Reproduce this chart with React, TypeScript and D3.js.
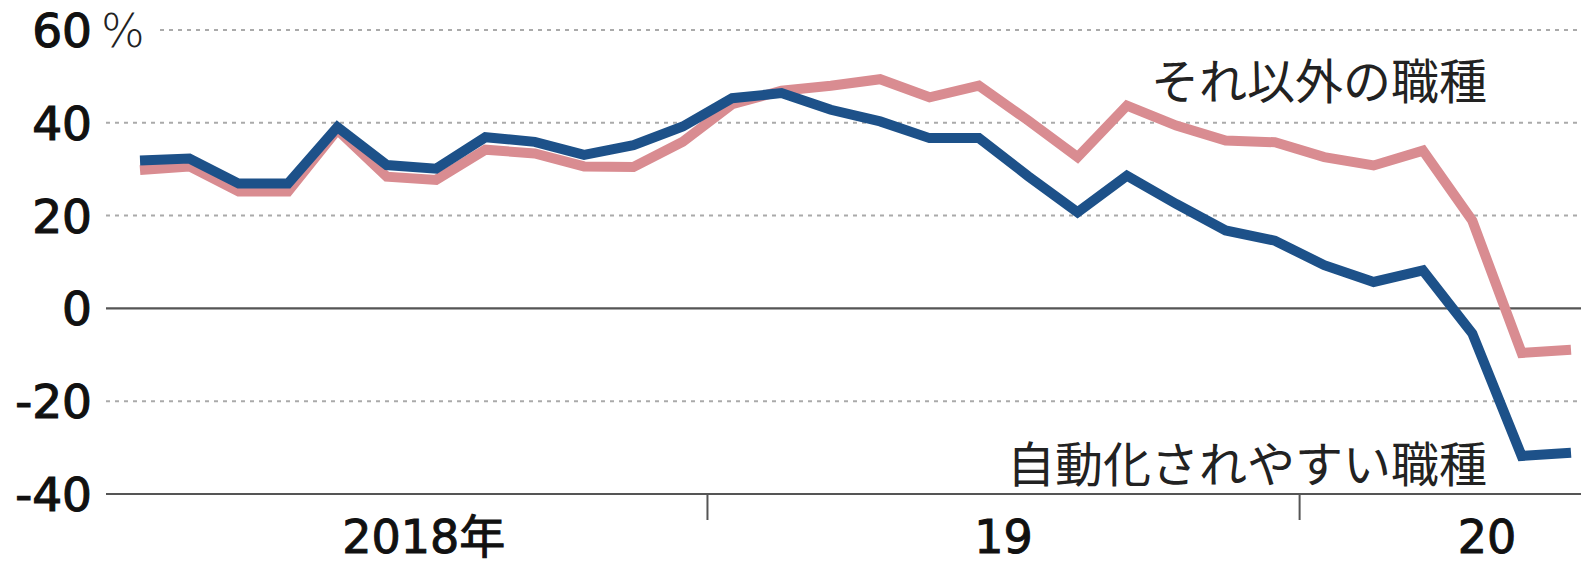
import React from "react";
import * as d3 from "d3";

const months: string[] = [
  "2018-01","2018-02","2018-03","2018-04","2018-05","2018-06","2018-07","2018-08","2018-09","2018-10","2018-11","2018-12",
  "2019-01","2019-02","2019-03","2019-04","2019-05","2019-06","2019-07","2019-08","2019-09","2019-10","2019-11","2019-12",
  "2020-01","2020-02","2020-03","2020-04","2020-05","2020-06",
];

// 自動化されやすい職種
const automatable: number[] = [
  31.9, 32.3, 26.9, 26.9, 39.1, 30.9, 30.1, 36.9, 35.9, 33.1, 35.2, 39.2,
  45.3, 46.4, 42.8, 40.3, 36.7, 36.7, 28.5, 20.7, 28.6, 22.5, 16.8, 14.6,
  9.3, 5.7, 8.2, -5.4, -31.8, -31.1,
];

// それ以外の職種
const others: number[] = [
  29.8, 30.6, 25.2, 25.2, 38.5, 28.4, 27.7, 34.2, 33.4, 30.6, 30.5, 35.9,
  44.0, 46.9, 48.0, 49.4, 45.5, 48.0, 40.5, 32.6, 43.7, 39.4, 36.2, 35.8,
  32.6, 30.8, 34.0, 18.9, -9.6, -8.9,
];

const yTicks: number[] = [60, 40, 20, 0, -20, -40];
const yearBoundaries: number[] = [11.5, 23.5];
const yearLabels: { text: string; at: number }[] = [
  { text: "2018年", at: 5.75 },
  { text: "19", at: 17.5 },
  { text: "20", at: 27.3 },
];

const W = 1581;
const H = 564;
const BLUE = "#1d5189";
const PINK = "#d98c91";
const NUM_FONT = "'DejaVu Sans', 'Noto Sans CJK JP', sans-serif";
const JP_FONT = "'Noto Sans CJK JP', sans-serif";

export default function App() {
  const x = d3.scaleLinear().domain([0, months.length - 1]).range([140, 1571]);
  const y = d3.scaleLinear().domain([-40, 60]).range([494, 30]);
  const line = d3
    .line<number>()
    .x((_, i) => x(i))
    .y((d) => y(d));

  const plotLeft = 106;

  return (
    <svg
      width={W}
      height={H}
      style={{ position: "absolute", left: 0, top: 0, background: "#fff" }}
    >
      {/* grid lines */}
      {yTicks.map((t) => {
        const solid = t === 0 || t === -40;
        const x0 = t === 60 ? 160 : plotLeft;
        return (
          <line
            key={t}
            x1={x0}
            x2={W}
            y1={y(t)}
            y2={y(t)}
            stroke={solid ? "#555" : "#aaa"}
            strokeWidth={solid ? 2.2 : 2}
            strokeDasharray={solid ? undefined : "4 5"}
          />
        );
      })}
      {/* year boundary ticks */}
      {yearBoundaries.map((b) => (
        <line
          key={b}
          x1={x(b)}
          x2={x(b)}
          y1={y(-40)}
          y2={y(-40) + 26}
          stroke="#555"
          strokeWidth={2}
        />
      ))}
      {/* y labels */}
      {yTicks.map((t) => (
        <text
          key={t}
          x={92}
          y={y(t)}
          dy="0.36em"
          textAnchor="end"
          fontFamily={NUM_FONT}
          fontSize={47}
          fill="#111"
          stroke="#111"
          strokeWidth={1.2}
        >
          {t}
        </text>
      ))}
      <text x={101} y={y(60)} dy="0.36em" fontFamily={NUM_FONT} fontSize={46} fontWeight={300} fill="#222">
        %
      </text>
      {/* x labels */}
      {yearLabels.map((l) => (
        <text
          key={l.text}
          x={x(l.at)}
          y={553}
          textAnchor="middle"
          fontFamily={NUM_FONT}
          fontSize={46}
          fill="#111"
          stroke="#111"
          strokeWidth={1}
        >
          {l.text}
        </text>
      ))}
      {/* lines */}
      <path d={line(others) ?? ""} fill="none" stroke={PINK} strokeWidth={10} strokeLinejoin="miter" />
      <path d={line(automatable) ?? ""} fill="none" stroke={BLUE} strokeWidth={10} strokeLinejoin="miter" />
      {/* annotations */}
      <text x={1487} y={99} textAnchor="end" fontFamily={JP_FONT} fontSize={48} fontWeight={400} fill="#222">
        それ以外の職種
      </text>
      <text x={1487} y={482} textAnchor="end" fontFamily={JP_FONT} fontSize={48} fontWeight={400} fill="#222">
        自動化されやすい職種
      </text>
    </svg>
  );
}
